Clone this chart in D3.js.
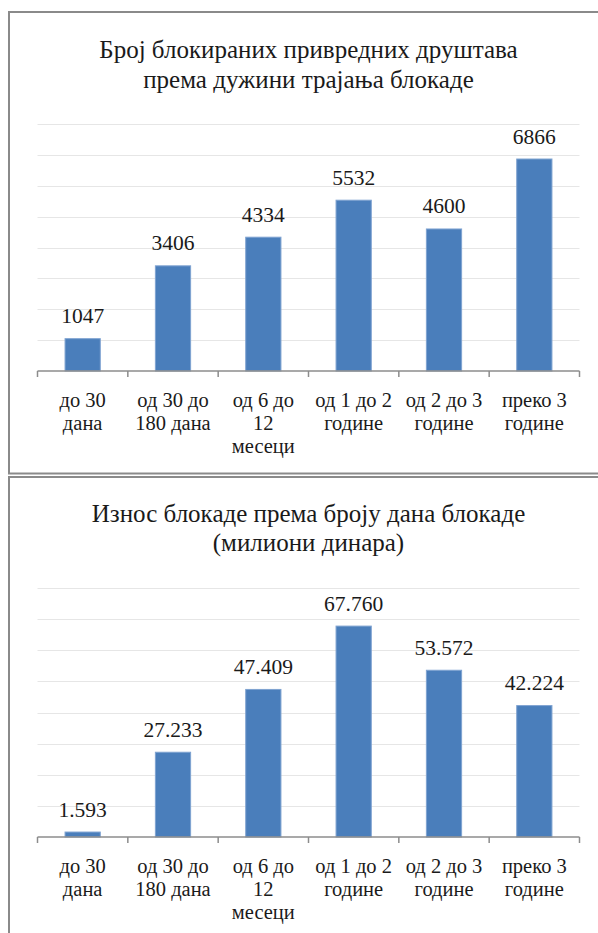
<!DOCTYPE html>
<html>
<head>
<meta charset="utf-8">
<script src="https://cdn.jsdelivr.net/npm/d3@7"></script>
<style>
  html, body { margin: 0; padding: 0; background: #fff; }
  svg { display: block; }
</style>
</head>
<body>
<svg id="chart" width="598" height="933"></svg>
<script>
// ---- data ----
const categories = ["до 30 дана", "од 30 до 180 дана", "од 6 до 12 месеци", "од 1 до 2 године", "од 2 до 3 године", "преко 3 године"];
const categoryLines = [["до 30", "дана"], ["од 30 до", "180 дана"], ["од 6 до", "12", "месеци"], ["од 1 до 2", "године"], ["од 2 до 3", "године"], ["преко 3", "године"]];
const countValues = [1047, 3406, 4334, 5532, 4600, 6866];
const amountValues = [1593, 27233, 47409, 67760, 53572, 42224];
const countTicks = [0, 1000, 2000, 3000, 4000, 5000, 6000, 7000, 8000];
const amountTicks = [0, 10000, 20000, 30000, 40000, 50000, 60000, 70000, 80000];
const titleTop = ["Број блокираних привредних друштава", "према дужини трајања блокаде"];
const titleBottom = ["Износ блокаде према броју дана блокаде", "(милиони динара)"];

const FONT = "'Liberation Serif', 'Times New Roman', Tinos, 'DejaVu Serif', 'Noto Serif', serif";
const svg = d3.select("#chart").attr("font-family", FONT);

// panels
svg.append("rect").attr("x", 9).attr("y", 12).attr("width", 620).attr("height", 461.5)
  .attr("fill", "none").attr("stroke", "#8a8a8a").attr("stroke-width", 2);
svg.append("rect").attr("x", 9).attr("y", 477).attr("width", 620).attr("height", 500)
  .attr("fill", "none").attr("stroke", "#8a8a8a").attr("stroke-width", 2);

const fmtDot = v => d3.format(",")(v).replace(/,/g, ".");

function drawChart(opts) {
  const g = svg.append("g");
  const x = d3.scaleBand().domain(categories).range([37.5, 579.5]).paddingInner(0.61).paddingOuter(0.305);
  const y = d3.scaleLinear().domain([0, d3.max(opts.ticks)]).range([opts.base, opts.top]);
  const step = x.step();

  // title
  const tt = g.append("text").attr("text-anchor", "middle").attr("font-size", 25)
    .attr("font-family", FONT).attr("fill", "#1a1a1a");
  opts.title.forEach((t, i) => {
    tt.append("tspan").attr("x", 308.5).attr("y", opts.titleY + i * 29.5).text(t);
  });

  // gridlines
  g.append("g").selectAll("line").data(opts.ticks.filter(d => d > 0)).join("line")
    .attr("x1", 37.5).attr("x2", 579.5)
    .attr("y1", d => Math.round(y(d)) + 0.5).attr("y2", d => Math.round(y(d)) + 0.5)
    .attr("stroke", "#e6e6e6").attr("stroke-width", 1);

  // bars
  g.append("g").selectAll("rect").data(opts.values).join("rect")
    .attr("x", (d, i) => x(categories[i]))
    .attr("width", x.bandwidth())
    .attr("y", d => y(d))
    .attr("height", d => opts.base - y(d))
    .attr("fill", "#4a7ebb").attr("stroke", "#7fa3d1").attr("stroke-width", 1);

  // data labels
  g.append("g").selectAll("text").data(opts.values).join("text")
    .attr("x", (d, i) => x(categories[i]) + x.bandwidth() / 2)
    .attr("y", d => y(d) - 15.5)
    .attr("text-anchor", "middle").attr("font-size", 21.5)
    .attr("font-family", FONT).attr("fill", "#1a1a1a")
    .text(d => opts.fmt(d));

  // x axis
  const ax = g.append("g").attr("transform", `translate(0,${opts.base})`);
  ax.append("line").attr("x1", 37.5).attr("x2", 579.5).attr("y1", 0).attr("y2", 0)
    .attr("stroke", "#8c8c8c").attr("stroke-width", 1.5);
  const tickPos = d3.range(categories.length + 1).map(i => 37.5 + i * step);
  ax.selectAll("line.tk").data(tickPos).join("line").attr("class", "tk")
    .attr("x1", d => d).attr("x2", d => d).attr("y1", 0).attr("y2", 6)
    .attr("stroke", "#8c8c8c").attr("stroke-width", 1.5);

  const lbl = ax.selectAll("text.cat").data(categoryLines).join("text").attr("class", "cat")
    .attr("text-anchor", "middle").attr("font-size", 20.5)
    .attr("font-family", FONT).attr("fill", "#1a1a1a");
  lbl.each(function(lines, i) {
    const t = d3.select(this);
    const cx = x(categories[i]) + x.bandwidth() / 2;
    lines.forEach((ln, j) => {
      t.append("tspan").attr("x", cx).attr("y", 35.5 + j * 23).text(ln);
    });
  });
}

drawChart({ title: titleTop, titleY: 58, ticks: countTicks, values: countValues, base: 371, top: 124, fmt: d => String(d) });
drawChart({ title: titleBottom, titleY: 521.5, ticks: amountTicks, values: amountValues, base: 837, top: 588, fmt: fmtDot });
</script>
</body>
</html>
